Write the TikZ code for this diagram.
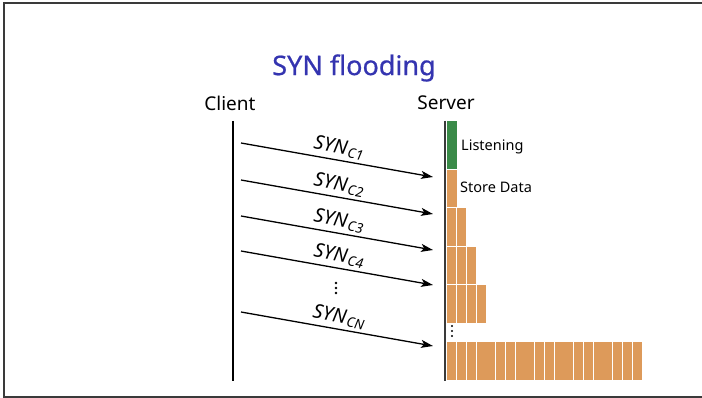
\documentclass[tikz,border=0pt]{standalone}
\usepackage{fontspec}
\setmainfont{Noto Sans}
\usetikzlibrary{arrows.meta}
\definecolor{titleblue}{HTML}{3434B0}
\definecolor{barorange}{HTML}{DD9A5A}
\definecolor{bargreen}{HTML}{3A8A48}
\definecolor{framegray}{HTML}{3A3A3A}
\tikzset{
  arr/.style={line width=1.3pt, -{Stealth[length=12pt,width=8pt,inset=3pt]}},
  lab/.style={midway, above=2pt, sloped, font=\fontsize{19.5}{21}\selectfont, inner sep=1pt},
  lifeline/.style={line width=1.8pt},
  obar/.style={fill=barorange},
  gbar/.style={fill=bargreen},
  head/.style={font=\fontsize{19}{21}\selectfont, inner sep=0pt},
  small/.style={font=\fontsize{14.5}{16}\selectfont, inner sep=0pt, anchor=west},
}
\newcommand{\syn}[1]{\textit{SYN}\kern1.2pt\textsubscript{\textit{#1}}}
\begin{document}
\begin{tikzpicture}[x=1pt,y=-1pt]
\useasboundingbox (0,0) rectangle (702,398);
% frame
\draw[framegray, line width=1.6pt] (703,3) -- (4,3) -- (4,397) -- (703,397);
% title
\node[text=titleblue, font=\fontsize{27}{30}\selectfont\addfontfeature{FakeBold=0.7}, inner sep=0pt] (title) at (354,68) {SYN flooding};
% heads
\node[head] (client) at (230,103) {Client};
\node[head] (server) at (446,103) {Server};
% lifelines
\coordinate (ctop) at (233,121); \coordinate (cbot) at (233,381);
\coordinate (stop) at (445,121); \coordinate (sbot) at (445,381);
\draw[lifeline] (ctop) -- (cbot);
\draw[line width=2.4pt, gray!80] (stop) -- (sbot);
\draw[line width=1.2pt, framegray] (stop) -- (sbot);
% arrows
\coordinate (a1s) at (241,143); \coordinate (a1e) at (433,177);
\coordinate (a2s) at (241,180); \coordinate (a2e) at (433,214);
\coordinate (a3s) at (241,216); \coordinate (a3e) at (433,250);
\coordinate (a4s) at (241,251); \coordinate (a4e) at (433,285);
\coordinate (a5s) at (241,312); \coordinate (a5e) at (433,346);
\draw[arr] (a1s) -- node[lab] (l1) {\syn{C1}} (a1e);
\draw[arr] (a2s) -- node[lab] (l2) {\syn{C2}} (a2e);
\draw[arr] (a3s) -- node[lab] (l3) {\syn{C3}} (a3e);
\draw[arr] (a4s) -- node[lab] (l4) {\syn{C4}} (a4e);
\draw[arr] (a5s) -- node[lab] (l5) {\syn{CN}} (a5e);
% vertical ellipsis (client side)
\foreach \y in {283,288,293}{\fill (336,\y) circle (1.3);}
% server bars
\fill[gbar] (446.5,121) rectangle (457,169);
\fill[obar] (446.5,170) rectangle (457,207);
\node[small] (listen) at (461,147) {Listening};
\node[small] (store) at (460,187) {Store Data};
\foreach \x in {447,457}{\fill[obar] (\x,208.5) rectangle ++(9.3,37.5);}
\foreach \x in {447,457,467}{\fill[obar] (\x,247) rectangle ++(9.3,37);}
\foreach \x in {447,457,467,477}{\fill[obar] (\x,285.5) rectangle ++(9.3,37.5);}
\foreach \y in {326,331,336}{\fill (452,\y) circle (1.2);}
\foreach \a/\b in {447/456,457/466,467/476,477/495,496/505,506/515,516/534,535/544,545/554,555/573,574/583,584/593,594/612,613/622,623/632,633/642}{
  \fill[obar] (\a,342) rectangle (\b+0.3,380);}
\end{tikzpicture}
\end{document}
